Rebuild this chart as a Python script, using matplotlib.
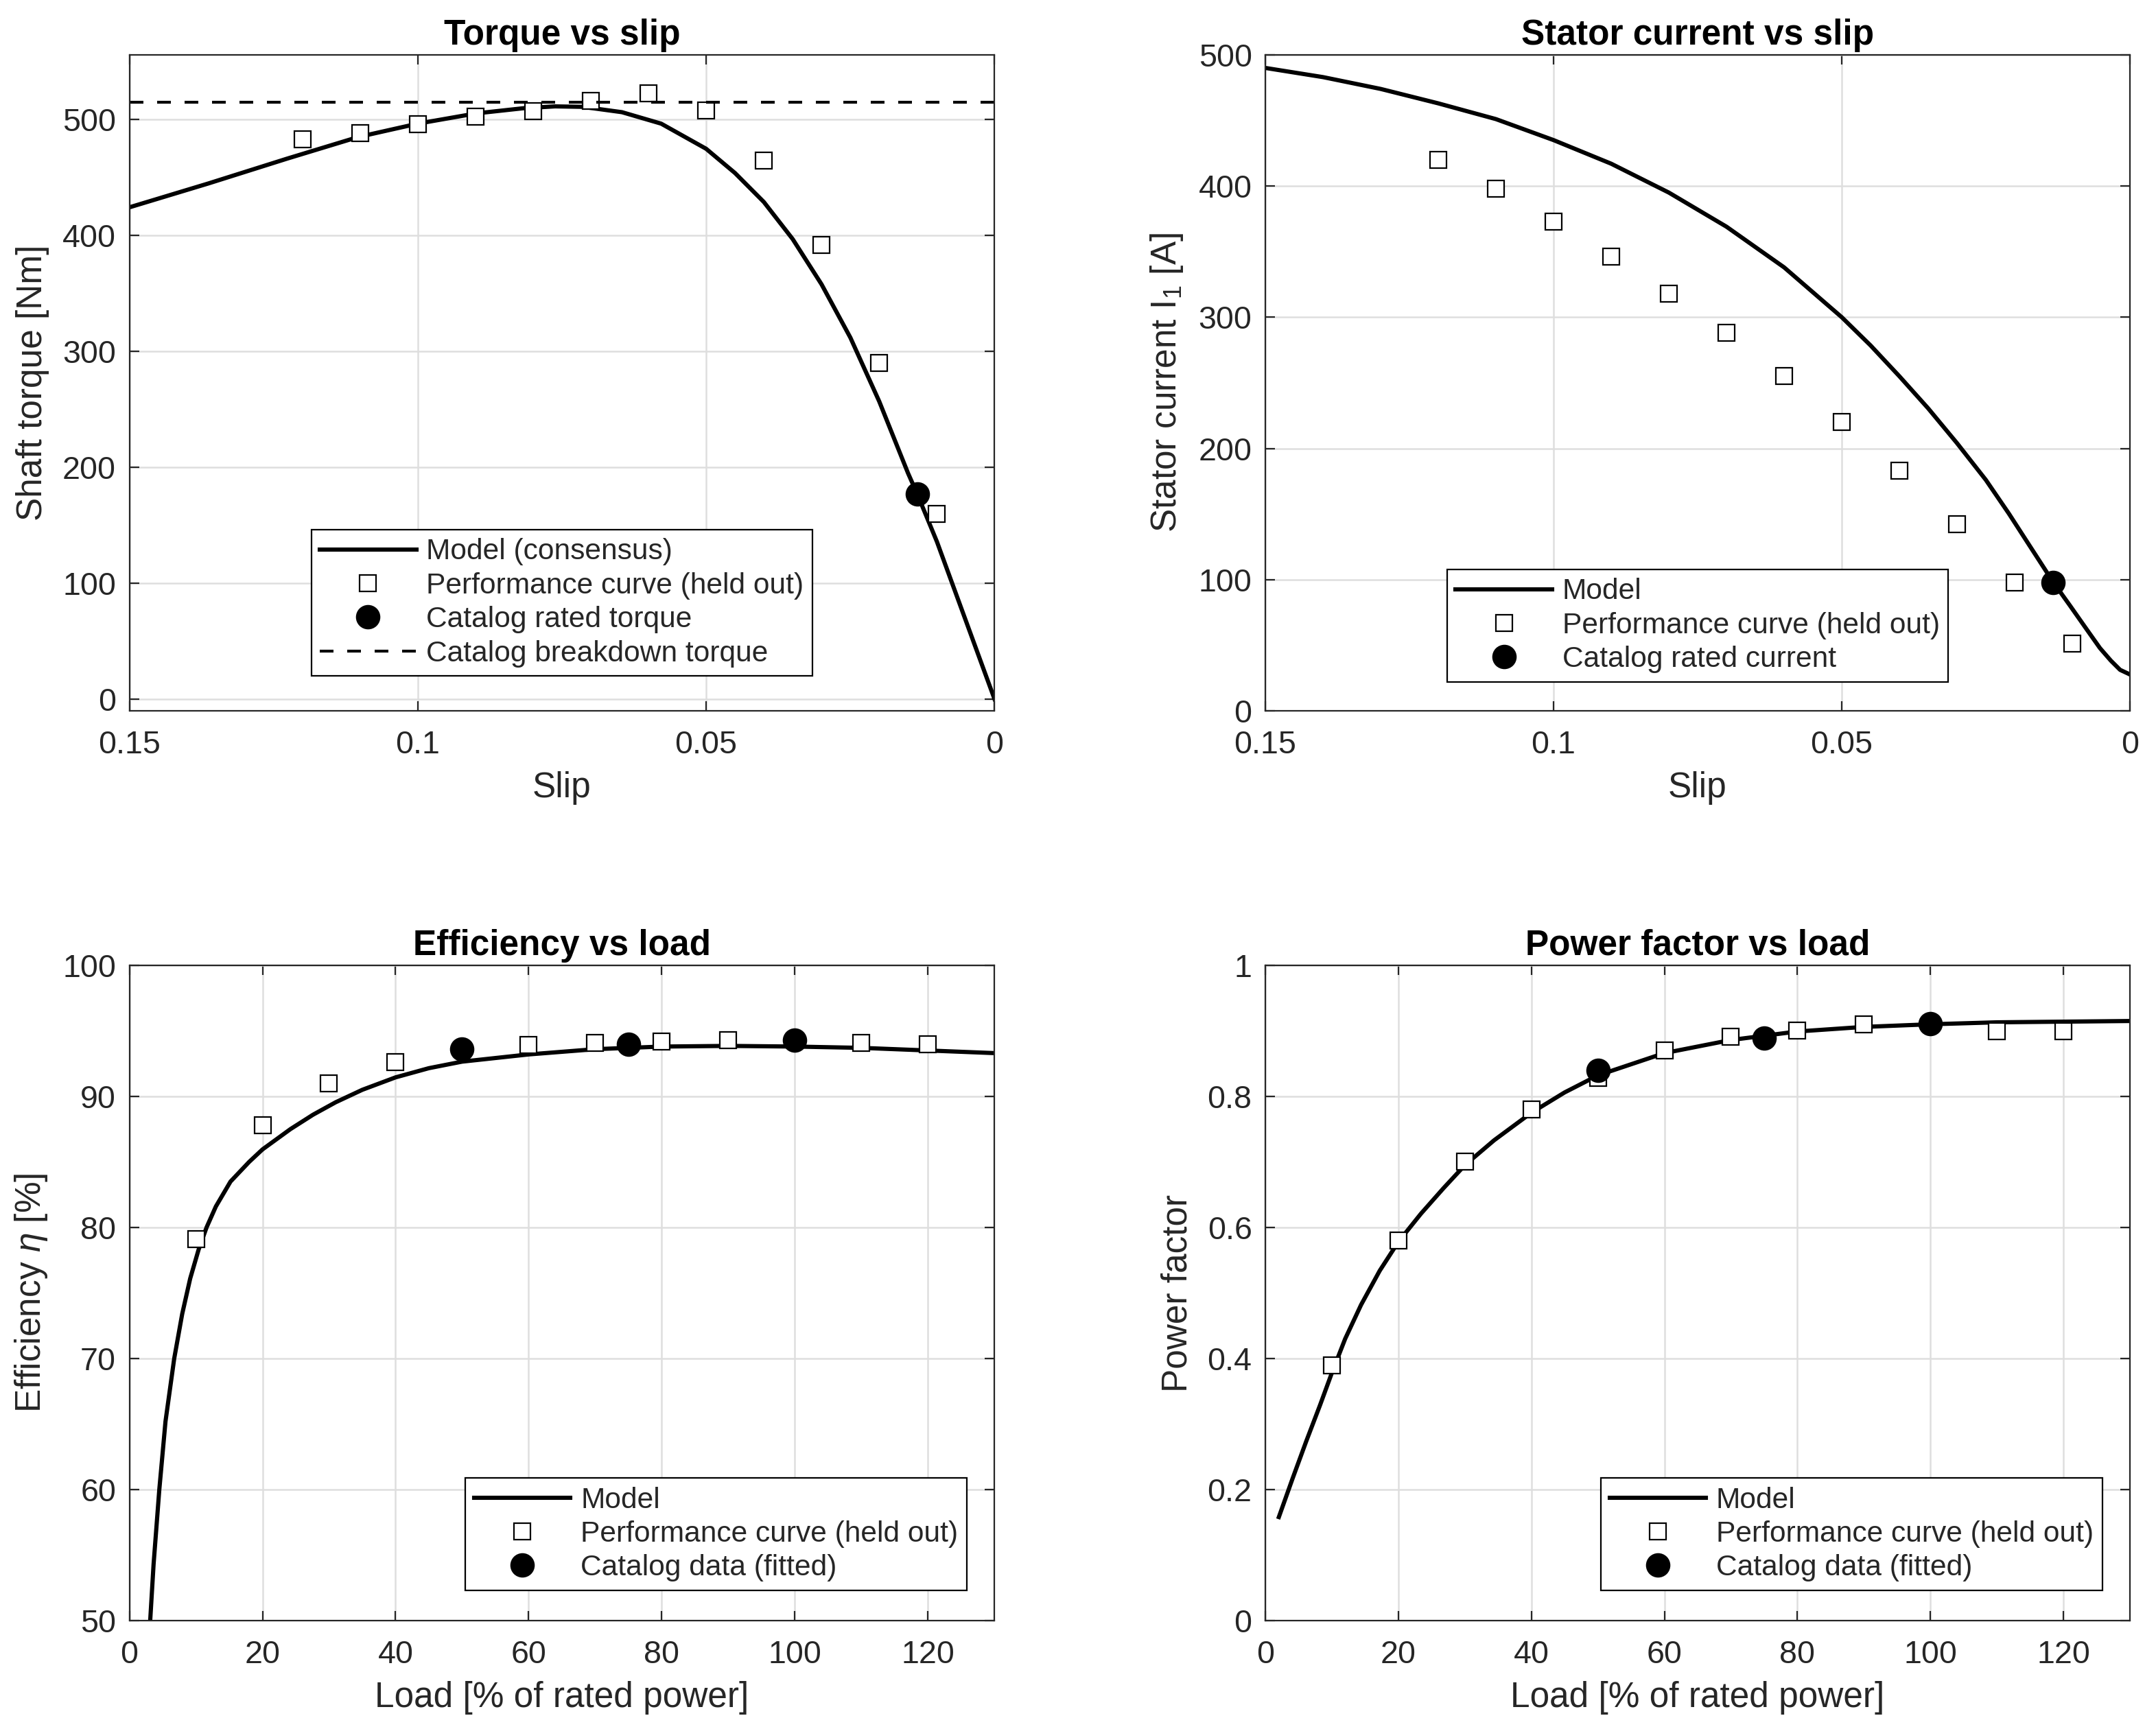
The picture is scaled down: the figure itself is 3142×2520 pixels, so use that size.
import matplotlib
matplotlib.use("Agg")
import matplotlib.pyplot as plt

# fonts, MATLAB-like look
plt.rcParams['font.family'] = ['Liberation Sans', 'DejaVu Sans']
plt.rcParams['mathtext.fontset'] = 'custom'
plt.rcParams['mathtext.rm'] = 'Liberation Sans'
plt.rcParams['mathtext.it'] = 'Liberation Sans:italic'

DARK = '#262626'

# ---- torque vs slip ----
slip_model_T = [0.15, 0.1363, 0.1226, 0.1103, 0.10, 0.0898, 0.0817, 0.0762, 0.0714,
                0.0646, 0.0578, 0.05, 0.045, 0.04, 0.035, 0.03, 0.025, 0.02,
                0.015, 0.0134, 0.01, 0.005, 0.0]
torque_model = [424.4, 445, 466.5, 485.1, 496.6, 505.5, 509.9, 511.5, 511.1,
                506.5, 496.6, 474.9, 454, 429, 397, 358, 312, 257,
                195, 177, 136, 68, 0]
slip_perf = [0.12, 0.11, 0.10, 0.09, 0.08, 0.07, 0.06, 0.05, 0.04, 0.03, 0.02, 0.01]
torque_perf = [483, 488.5, 496, 502.6, 507.5, 516, 522.8, 508, 465, 392, 290, 160]
slip_rated = [0.0134]
torque_rated = [177]
torque_breakdown = 515

# ---- stator current vs slip ----
slip_model_I = [0.15, 0.14, 0.13, 0.12, 0.11, 0.10, 0.09, 0.08, 0.07, 0.06, 0.05,
                0.045, 0.04, 0.035, 0.03, 0.025, 0.021, 0.0175, 0.0133, 0.0104,
                0.0076, 0.0052, 0.0033, 0.0017, 0.0]
current_model = [490, 483, 474, 463, 451, 435, 417, 395, 369, 338, 300,
                 278.5, 255, 230.5, 204, 176, 150.3, 126.5, 98, 80.2,
                 62.7, 47.8, 38.2, 31.2, 27.7]
current_perf = [420, 398, 373, 346, 318, 288, 255, 220, 183, 142, 98, 51]
slip_rated_I = [0.0133]
current_rated = [98]

# ---- efficiency vs load ----
load_model_eff = [3.13, 3.64, 4.5, 5.43, 6.74, 7.94, 9.14, 10.4, 11.6, 13.0, 15.2,
                  18.0, 20, 24.2, 27.6, 31.0, 35, 40, 45, 50, 60, 70, 80, 90,
                  100, 110, 120, 130]
eff_model = [50, 54.3, 60, 65.2, 70, 73.4, 76.1, 78.3, 80, 81.6, 83.5,
             85.0, 85.95, 87.5, 88.6, 89.55, 90.5, 91.45, 92.15, 92.65, 93.2, 93.6, 93.8, 93.85,
             93.8, 93.7, 93.5, 93.3]
load_perf_eff = [10, 20, 30, 40, 60, 70, 80, 90, 110, 120]
eff_perf = [79.1, 87.8, 91.0, 92.6, 93.9, 94.1, 94.2, 94.3, 94.1, 94.0]

# ---- power factor vs load ----
load_model_pf = [2.03, 4.1, 6.16, 8.23, 10, 12.0, 14.4, 17.2, 20, 23.4, 26.8, 30,
                 34.4, 40, 45, 50, 60, 70, 80, 90, 100, 110, 120, 130]
pf_model = [0.158, 0.217, 0.274, 0.329, 0.378, 0.430, 0.482, 0.534, 0.578, 0.621,
            0.660, 0.695, 0.733, 0.775, 0.806, 0.832, 0.866, 0.886, 0.899, 0.906,
            0.910, 0.913, 0.914, 0.915]
load_perf_pf = [10, 20, 30, 40, 50, 60, 70, 80, 90, 110, 120]
pf_perf = [0.390, 0.580, 0.700, 0.780, 0.828, 0.870, 0.891, 0.900, 0.910, 0.899, 0.899]

# catalog points (fitted)
load_cat = [50, 75, 100]
eff_cat = [93.6, 94.0, 94.3]
pf_cat = [0.840, 0.889, 0.911]

LW = 2.2
SQ = dict(ls='none', marker='s', ms=8.4, mfc='white', mec='k', mew=0.8)
DOT = dict(ls='none', marker='o', ms=11.8, mfc='k', mec='k')


def style_axes(ax, title, xlabel, ylabel):
    ax.set_title(title, fontsize=18.5, fontweight='bold', color='k', pad=5.5)
    ax.set_xlabel(xlabel, fontsize=18.5, color=DARK, labelpad=6)
    ax.set_ylabel(ylabel, fontsize=18.5, color=DARK, labelpad=7)
    ax.grid(True, color='#dedede', lw=0.9)
    ax.set_axisbelow(True)
    ax.tick_params(direction='in', top=True, right=True, length=5, width=0.8,
                   labelsize=16.8, colors=DARK, pad=7)
    ax.tick_params(axis='x', pad=10)
    for sp in ax.spines.values():
        sp.set_color(DARK)
        sp.set_linewidth(0.8)


def add_legend(ax, loc, anchor):
    leg = ax.legend(loc=loc, bbox_to_anchor=anchor, borderaxespad=0, fontsize=15.3,
                    fancybox=False, framealpha=1, edgecolor='k', handlelength=3.3,
                    handletextpad=0.35, labelspacing=0.22, borderpad=0.3)
    leg.get_frame().set_linewidth(0.8)
    for t in leg.get_texts():
        t.set_color(DARK)


fig = plt.figure(figsize=(15.71, 12.6), dpi=200)
ax1 = fig.add_axes([0.0600, 0.5889, 0.4013, 0.3794])
ax2 = fig.add_axes([0.5869, 0.5889, 0.4010, 0.3794])
ax3 = fig.add_axes([0.0600, 0.0627, 0.4013, 0.3790])
ax4 = fig.add_axes([0.5869, 0.0627, 0.4010, 0.3790])

slip_ticks = [0.15, 0.1, 0.05, 0]
slip_labels = ['0.15', '0.1', '0.05', '0']

# torque
ax1.plot(slip_model_T, torque_model, 'k-', lw=LW, label='Model (consensus)')
ax1.plot(slip_perf, torque_perf, **SQ, label='Performance curve (held out)')
ax1.plot(slip_rated, torque_rated, **DOT, label='Catalog rated torque')
ax1.axhline(torque_breakdown, color='k', lw=1.5, ls=(0, (4.8, 4.8)),
            label='Catalog breakdown torque')
ax1.set_xlim(0.15, 0)
ax1.set_ylim(-10, 556)
ax1.set_xticks(slip_ticks, slip_labels)
ax1.set_yticks(range(0, 501, 100))
style_axes(ax1, 'Torque vs slip', 'Slip', 'Shaft torque [Nm]')
add_legend(ax1, 'lower center', (0.5, 0.053))

# stator current
ax2.plot(slip_model_I, current_model, 'k-', lw=LW, label='Model')
ax2.plot(slip_perf, current_perf, **SQ, label='Performance curve (held out)')
ax2.plot(slip_rated_I, current_rated, **DOT, label='Catalog rated current')
ax2.set_xlim(0.15, 0)
ax2.set_ylim(0, 500)
ax2.set_xticks(slip_ticks, slip_labels)
ax2.set_yticks(range(0, 501, 100))
style_axes(ax2, 'Stator current vs slip', 'Slip', r'Stator current I$_1$ [A]')
add_legend(ax2, 'lower center', (0.5, 0.044))

# efficiency
ax3.plot(load_model_eff, eff_model, 'k-', lw=LW, label='Model')
ax3.plot(load_perf_eff, eff_perf, **SQ, label='Performance curve (held out)')
ax3.plot(load_cat, eff_cat, **DOT, label='Catalog data (fitted)')
ax3.set_xlim(0, 130)
ax3.set_ylim(50, 100)
ax3.set_xticks(range(0, 121, 20))
ax3.set_yticks(range(50, 101, 10))
style_axes(ax3, 'Efficiency vs load', 'Load [% of rated power]', r'Efficiency $\eta$ [%]')
add_legend(ax3, 'lower right', (0.968, 0.046))

# power factor
ax4.plot(load_model_pf, pf_model, 'k-', lw=LW, label='Model')
ax4.plot(load_perf_pf, pf_perf, **SQ, label='Performance curve (held out)')
ax4.plot(load_cat, pf_cat, **DOT, label='Catalog data (fitted)')
ax4.set_xlim(0, 130)
ax4.set_ylim(0, 1)
ax4.set_xticks(range(0, 121, 20))
ax4.set_yticks([0, 0.2, 0.4, 0.6, 0.8, 1], ['0', '0.2', '0.4', '0.6', '0.8', '1'])
style_axes(ax4, 'Power factor vs load', 'Load [% of rated power]', 'Power factor')
add_legend(ax4, 'lower right', (0.968, 0.046))

fig.savefig('out.png', dpi=200)
